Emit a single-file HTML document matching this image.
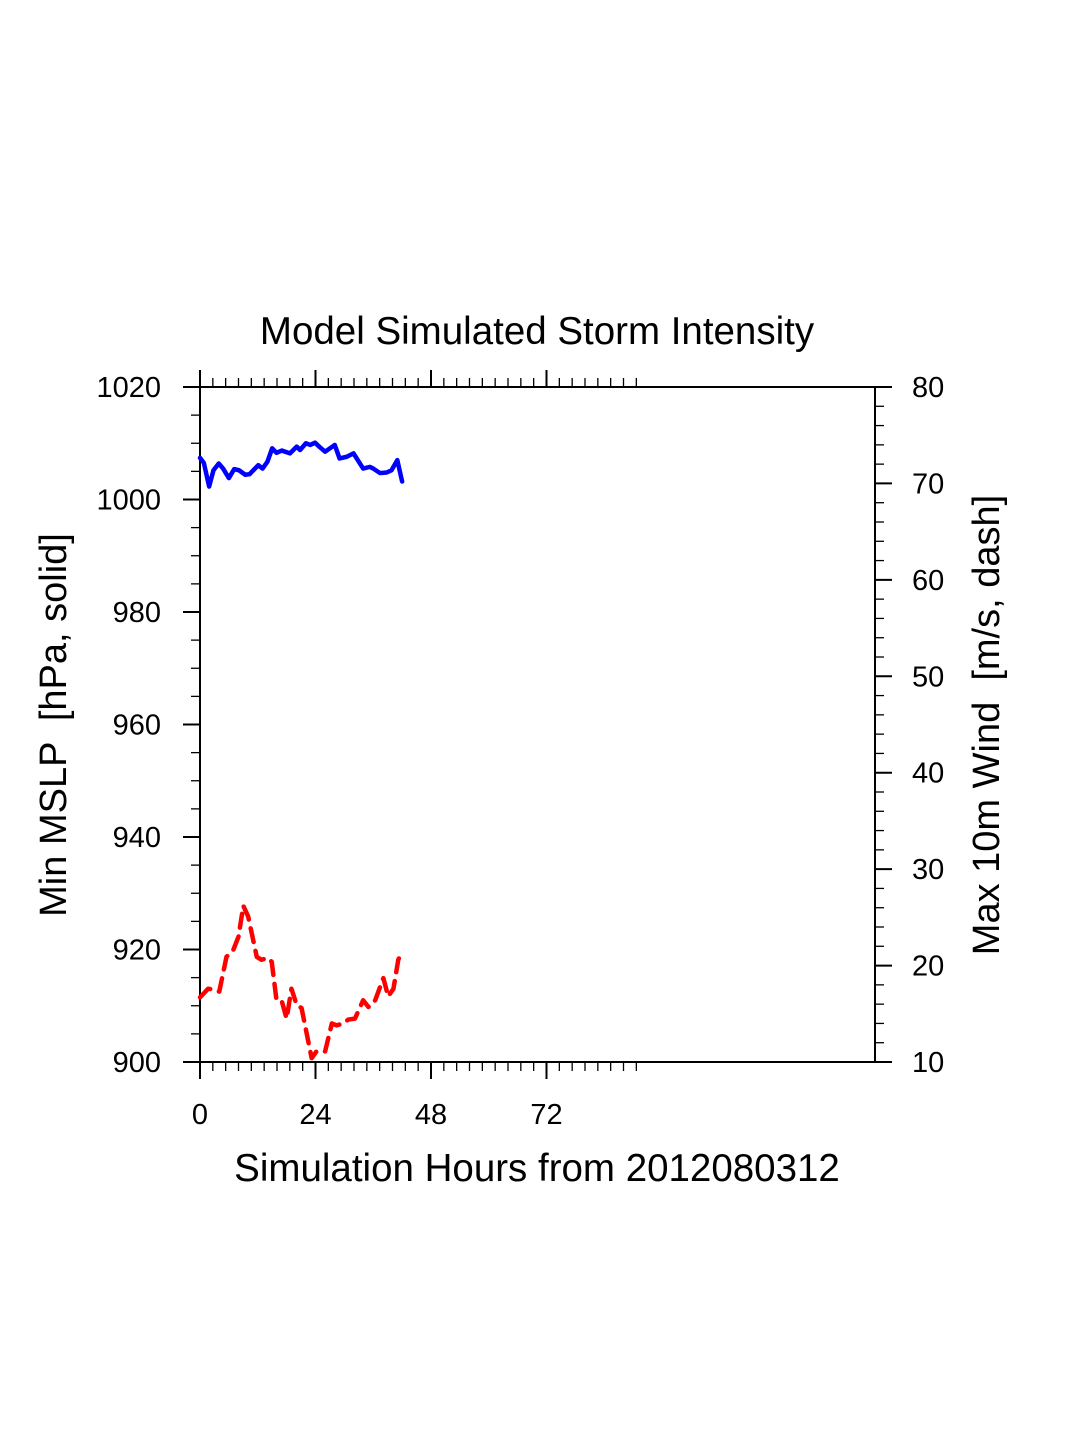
<!DOCTYPE html>
<html><head><meta charset="utf-8"><style>
html,body{margin:0;padding:0;background:#fff;}
svg{display:block;font-family:"Liberation Sans",Arial,sans-serif;}
</style></head><body>
<svg id="chart" width="1075" height="1450" viewBox="0 0 1075 1450">
<text x="537" y="344" font-size="38.5" text-anchor="middle">Model Simulated Storm Intensity</text>
<g id="axes"></g>
<g id="series"></g>
<text x="537" y="1181" font-size="38.5" text-anchor="middle">Simulation Hours from 2012080312</text>
<text transform="translate(66,725) rotate(-90)" font-size="38" text-anchor="middle" xml:space="preserve">Min MSLP  [hPa, solid]</text>
<text transform="translate(999,725) rotate(-90)" font-size="38" text-anchor="middle" xml:space="preserve">Max 10m Wind  [m/s, dash]</text>
</svg>
<script>
const xTickLabels = [0, 24, 48, 72];
const leftTickLabels = [900, 920, 940, 960, 980, 1000, 1020];
const rightTickLabels = [10, 20, 30, 40, 50, 60, 70, 80];
const mslpHours = [0,0.8,1.9,2.8,3.9,4.8,6,7.1,8.1,9.4,10.3,12.1,13,14,15,15.9,17,18.7,20.1,20.8,22,22.9,23.9,24.9,26,28,29,30.5,31.9,33.9,35.3,36,37.4,38.8,39.8,41,42];
const mslpValues = [1007.4,1006.5,1002.3,1005.2,1006.4,1005.5,1003.8,1005.4,1005.2,1004.4,1004.5,1006.1,1005.5,1006.7,1009.1,1008.3,1008.7,1008.2,1009.4,1008.8,1010,1009.7,1010.1,1009.3,1008.5,1009.7,1007.3,1007.6,1008.2,1005.5,1005.8,1005.5,1004.7,1004.8,1005.2,1007,1003.2];
const windHours = [0,1.7,2.8,4,5.5,6.9,8,9,10,11.8,12.8,14,14.9,15.9,17,18,19,20.1,21.1,23.2,24.2,26,27.4,28.4,29.8,30.8,32.2,33.9,35,36.4,38.1,39.1,40.2,41.2,41.9];
const windValues = [16.7,17.6,17.5,17.3,20.9,21.6,23,26.2,25.1,20.9,20.6,20.8,20.4,16.4,16.3,14.5,17.6,15.9,15.6,10.4,11.1,11.1,14,13.8,14,14.4,14.5,16.4,15.7,16.4,18.7,16.8,17.6,20.6,21.4];

const NS='http://www.w3.org/2000/svg';
const L=200,R=875,T=387,B=1062;
const xS=h=>L+h*(675/140.26);
const yL=v=>B-(v-900)*(675/120);
const yR=v=>B-(v-10)*(675/70);
function mk(tag,attrs,parent){const e=document.createElementNS(NS,tag);for(const k in attrs)e.setAttribute(k,attrs[k]);parent.appendChild(e);return e;}
const ax=document.getElementById('axes');
const frame=mk('rect',{x:L,y:T,width:R-L,height:B-T,fill:'none',stroke:'#000','stroke-width':2},ax);


for(let i=0;i<=34;i++){
  const h=i*24/9;
  const major=i%9===0; const x=xS(h);
  const len=major?17:9;
  const t1=mk('line',{x1:x,y1:B,x2:x,y2:B+len,stroke:'#000','stroke-width':major?2:1.3},ax);
  
  
  const t2=mk('line',{x1:x,y1:T,x2:x,y2:T-len,stroke:'#000','stroke-width':major?2:1.3},ax);
  
  
}
xTickLabels.forEach(v=>{
  const t=mk('text',{x:xS(v),y:1124,'font-size':29,'text-anchor':'middle'},ax);t.textContent=v;
  
  
});
for(let v=900;v<=1020;v+=5){
  const major=v%20===0;const y=yL(v);
  const t=mk('line',{x1:L,y1:y,x2:L-(major?17:9),y2:y,stroke:'#000','stroke-width':major?2:1.3},ax);
  
  
}
leftTickLabels.forEach(v=>{
  const t=mk('text',{x:161,y:yL(v)+10,'font-size':29,'text-anchor':'end'},ax);t.textContent=v;
  
  
});
for(let v=10;v<=80;v+=2){
  const major=v%10===0;const y=yR(v);
  const t=mk('line',{x1:R,y1:y,x2:R+(major?17:9),y2:y,stroke:'#000','stroke-width':major?2:1.3},ax);
  
  
}
rightTickLabels.forEach(v=>{
  const t=mk('text',{x:912,y:yR(v)+10,'font-size':29,'text-anchor':'start'},ax);t.textContent=v;
  
  
});
const se=document.getElementById('series');
const mp=mk('polyline',{points:mslpHours.map((h,i)=>xS(h)+','+yL(mslpValues[i])).join(' '),fill:'none',stroke:'#0000ff','stroke-width':4.5,'stroke-linejoin':'round','stroke-linecap':'round'},se);


const wp=mk('polyline',{points:windHours.map((h,i)=>xS(h)+','+yR(windValues[i])).join(' '),fill:'none',stroke:'#ff0000','stroke-width':4.5,'stroke-dasharray':'14 9','stroke-linejoin':'round','stroke-linecap':'round'},se);


</script>
</body></html>
